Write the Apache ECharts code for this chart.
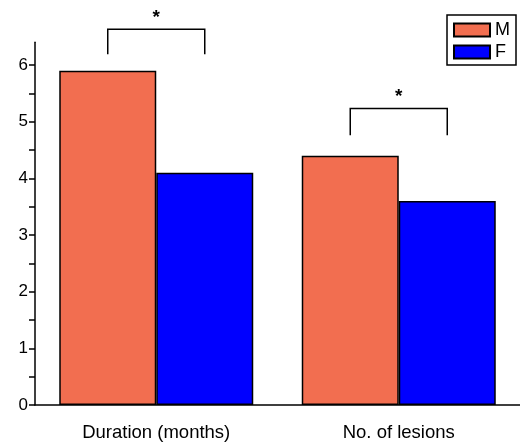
<!DOCTYPE html>
<html>
<head>
<meta charset="utf-8">
<script src="https://cdn.jsdelivr.net/npm/echarts@6/dist/echarts.min.js"></script>
<style>
  html, body { margin: 0; padding: 0; background: #fff; }
  #main { width: 520px; height: 447px; }
</style>
</head>
<body>
<div id="main"></div>
<script>
// categories and values
var categories = ['Duration (months)', 'No. of lesions'];
var maleValues = [5.9, 4.4];
var femaleValues = [4.1, 3.6];
var yLabelValues = [0, 1, 2, 3, 4, 5, 6];
var yTickValues = [0, 0.5, 1, 1.5, 2, 2.5, 3, 3.5, 4, 4.5, 5, 5.5, 6];
// significance brackets: top of bracket, bottom of legs, star position (axis units)
var bracketTop = [6.63, 5.23];
var bracketBottom = [6.19, 4.76];
var starPos = [6.84, 5.44];
var starText = ['*', '*'];

var FONT = 'Liberation Sans, Arial, sans-serif';

var chart = echarts.init(document.getElementById('main'));

var bracketData = categories.map(function (c, i) {
  return [c, bracketTop[i], bracketBottom[i], starPos[i]];
});

var option = {
  animation: false,
  backgroundColor: '#ffffff',
  grid: { left: 35, right: 0, top: 42.3, bottom: 42 },
  legend: {
    data: ['M', 'F'],
    orient: 'vertical',
    right: 4,
    top: 15,
    padding: [6, 6, 4, 6],
    icon: 'rect',
    itemWidth: 36,
    itemHeight: 13,
    itemGap: 4,
    borderColor: '#000',
    borderWidth: 1.5,
    textStyle: { fontSize: 18, color: '#000', fontFamily: FONT }
  },
  xAxis: [
    {
      type: 'category',
      data: categories,
      axisLine: { lineStyle: { color: '#000', width: 1.5 } },
      axisTick: { length: 7, lineStyle: { color: '#000', width: 1.5 } },
      axisLabel: { color: '#000', fontSize: 18.5, fontFamily: FONT, margin: 18 }
    },
    {
      type: 'category',
      data: categories,
      position: 'bottom',
      axisLine: { show: false },
      axisTick: { alignWithLabel: true, length: 7, lineStyle: { color: '#000', width: 1.5 } },
      axisLabel: { show: false }
    }
  ],
  yAxis: {
    type: 'value',
    min: 0,
    max: 6.4,
    splitLine: { show: false },
    axisLine: { show: true, lineStyle: { color: '#000', width: 1.5 } },
    axisTick: { show: true, length: 6, customValues: yTickValues, lineStyle: { color: '#000', width: 1.5 } },
    axisLabel: { color: '#000', fontSize: 17, fontFamily: FONT, margin: 7, customValues: yLabelValues }
  },
  series: [
    {
      name: 'M',
      type: 'bar',
      data: maleValues,
      barGap: '0%',
      barCategoryGap: '20%',
      itemStyle: { color: '#F26E50', borderColor: '#000', borderWidth: 1.5 }
    },
    {
      name: 'F',
      type: 'bar',
      data: femaleValues,
      barGap: '0%',
      barCategoryGap: '20%',
      itemStyle: { color: '#0000FF', borderColor: '#000', borderWidth: 1.5 }
    },
    {
      name: 'sig',
      type: 'custom',
      clip: false,
      z: 5,
      data: bracketData,
      encode: { x: 0, y: 1 },
      renderItem: function (params, api) {
        var idx = params.dataIndex;
        var top = api.coord([api.value(0), api.value(1)]);
        var bottom = api.coord([api.value(0), api.value(2)]);
        var star = api.coord([api.value(0), api.value(3)]);
        var bw = api.size([1, 0])[0] * 0.8 / 2; // one bar width
        var x1 = top[0] - bw / 2;
        var x2 = top[0] + bw / 2;
        return {
          type: 'group',
          children: [
            {
              type: 'polyline',
              shape: { points: [[x1, bottom[1]], [x1, top[1]], [x2, top[1]], [x2, bottom[1]]] },
              style: { stroke: '#000', fill: null, lineWidth: 1.5 }
            },
            {
              type: 'text',
              style: {
                text: starText[idx],
                x: top[0],
                y: star[1],
                align: 'center',
                verticalAlign: 'middle',
                font: 'bold 19px ' + FONT,
                fill: '#000'
              }
            }
          ]
        };
      }
    }
  ]
};

chart.setOption(option);
</script>
</body>
</html>
